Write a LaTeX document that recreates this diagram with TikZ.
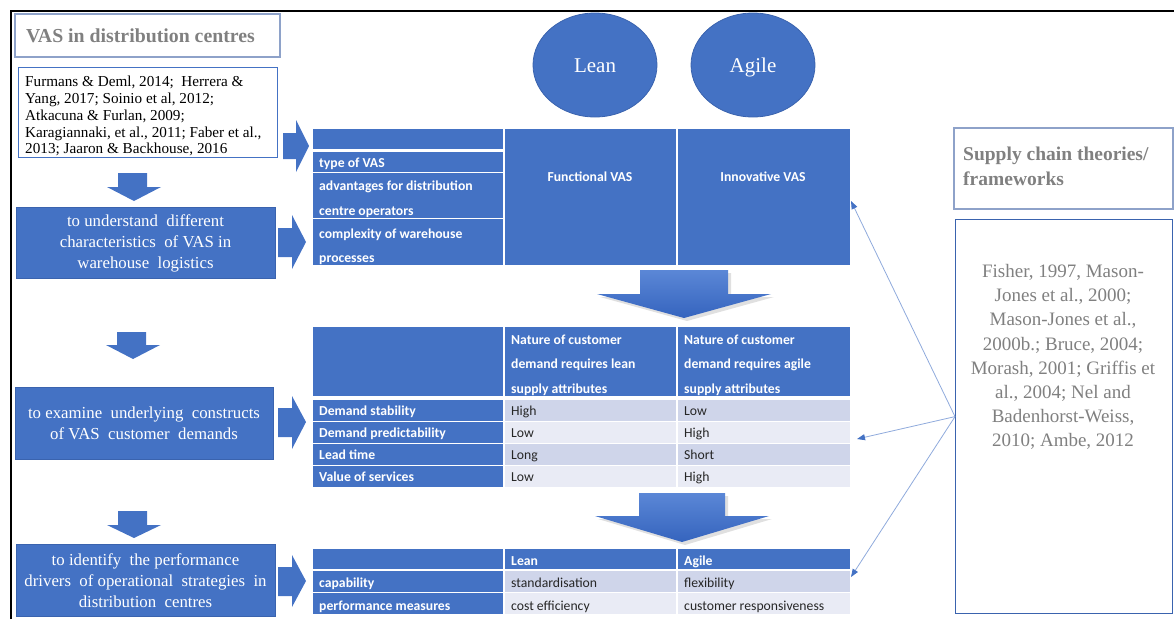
\documentclass[tikz,border=0pt]{standalone}
\usepackage{fontspec}
\setmainfont{Liberation Serif}
\newfontfamily\calibri{Carlito}
\usetikzlibrary{arrows.meta,shapes.geometric}

\definecolor{vasblue}{HTML}{4472C4}
\definecolor{vasedge}{HTML}{3A63AE}
\definecolor{rowA}{HTML}{CFD5EA}
\definecolor{rowB}{HTML}{E9EBF5}
\definecolor{greytxt}{HTML}{808080}
\definecolor{linkblue}{HTML}{8FAADC}
\definecolor{titleedge}{HTML}{8EA2C9}
\definecolor{shadetop}{HTML}{5B87D6}
\definecolor{shadebot}{HTML}{3564BE}

\tikzset{
  cd/.style={fill=vasblue, draw=white, line width=1pt},
  ca/.style={fill=rowA, draw=white, line width=1pt},
  cb/.style={fill=rowB, draw=white, line width=1pt},
  hd/.style={font=\calibri\bfseries\fontsize{13.7}{15}\selectfont, text=white, inner sep=0pt, anchor=base west},
  dt/.style={font=\calibri\fontsize{13.7}{15}\selectfont, text=black!85, inner sep=0pt, anchor=base west},
  aimbox/.style={fill=vasblue, draw=vasedge, line width=0.8pt, anchor=north west, inner sep=0pt},
  aimtext/.style={text=white, align=center, inner sep=0pt, font=\fontsize{16.8}{21}\selectfont},
  flatarrow/.style={fill=vasblue},
  bigarrow/.style={top color=shadetop, bottom color=shadebot},
  oval/.style={ellipse, minimum width=124pt, minimum height=104pt, fill=vasblue, draw=vasedge,
    line width=0.8pt},
  ovaltext/.style={anchor=base, inner sep=0pt, text=white, font=\fontsize{21}{24}\selectfont},
  link/.style={draw=linkblue, line width=0.8pt, -{Triangle[length=8pt,width=6pt,color=vasblue]}},
}

\begin{document}
\begin{tikzpicture}[x=1pt,y=-1pt]
\useasboundingbox (0,0) rectangle (1174,619);

% page frame
\draw[line width=2.5pt, black] (11,619) -- (11,11) -- (1174,11);

% left column: heading and references
\node[draw=titleedge, line width=1.5pt, minimum width=265pt, minimum height=43pt, anchor=north west, inner sep=0pt] (ttlbox) at (14,13) {};
\node[inner sep=0pt, anchor=base west, text=greytxt, font=\bfseries\fontsize{19.8}{22}\selectfont] (ttl) at (26,42) {VAS in distribution centres};

\node[draw=vasblue, line width=1.2pt, minimum width=259pt, minimum height=90pt, anchor=north west, inner sep=0pt] (litbox) at (18,67) {};
\node[anchor=north west, align=left, inner sep=0pt, font=\fontsize{15.2}{16.8}\selectfont] (lit) at (25,76)
  {Furmans \& Deml, 2014;\ \ Herrera \&\\ Yang, 2017; Soinio et al, 2012;\\ Atkacuna \& Furlan, 2009;\\ Karagiannaki,\ et al., 2011; Faber et al.,\\ 2013; Jaaron \& Backhouse, 2016};

% left column: research aims
\node[aimbox, minimum width=259pt, minimum height=71pt] (aim1) at (16,207) {};
\node[aimtext] (aim1t) at (145.5,243) {to understand\ \ different\\ characteristics\ \ of VAS in\\ warehouse\ \ logistics};
\node[aimbox, minimum width=258pt, minimum height=72pt] (aim2) at (15,387) {};
\node[aimtext] (aim2t) at (144,423.5) {to examine\ \ underlying\ \ constructs\\ of VAS\ \ customer\ \ demands};
\node[aimbox, minimum width=259pt, minimum height=72pt] (aim3) at (16,544) {};
\node[aimtext] (aim3t) at (145.5,581) {to identify\ \ the performance\\ drivers\ \ of operational\ \ strategies\ \ in\\ distribution\ \ centres};

% small down arrows between the left boxes
\fill[flatarrow] (118,173) -- (147,173) -- (147,187) -- (161,187) -- (134,201) -- (107,187) -- (118,187) -- cycle;
\fill[flatarrow] (117,332) -- (146,332) -- (146,345) -- (160,345) -- (133,359) -- (106,345) -- (117,345) -- cycle;
\fill[flatarrow] (118,511) -- (147,511) -- (147,525) -- (161,525) -- (134,538) -- (107,525) -- (118,525) -- cycle;

% small right arrows into the tables
\fill[flatarrow] (283,133) -- (296,133) -- (296,120) -- (309,146) -- (296,172) -- (296,159) -- (283,159) -- cycle;
\fill[flatarrow] (278,228) -- (292,228) -- (292,215) -- (306,242) -- (292,269) -- (292,257) -- (278,257) -- cycle;
\fill[flatarrow] (278,408) -- (292,408) -- (292,396) -- (306,422) -- (292,449) -- (292,437) -- (278,437) -- cycle;
\fill[flatarrow] (278,567) -- (292,567) -- (292,555) -- (306,581) -- (292,607) -- (292,596) -- (278,596) -- cycle;

% Lean / Agile
\node[oval] (lean) at (595,65) {};
\node[ovaltext] (leant) at (595,72) {Lean};
\node[oval] (agile) at (753,65) {};
\node[ovaltext] (agilet) at (753,72) {Agile};

% table 1: characteristics of VAS
\path[cd] (312,128) rectangle (503,149);
\path[cd] (504,128) rectangle (676,265);
\path[cd] (677,128) rectangle (850,265);
\path[cd] (312,151) rectangle (503,172);
\path[cd] (312,172) rectangle (503,218);
\path[cd] (312,218) rectangle (503,265);
\node[hd] (t1a) at (319,167) {type of VAS};
\node[hd] (t1b) at (319,190) {advantages for distribution};
\node[hd] (t1c) at (319,215) {centre operators};
\node[hd] (t1d) at (319,238) {complexity of warehouse};
\node[hd] (t1e) at (319,262) {processes};
\node[hd, anchor=base] (t1f) at (590,181) {Functional VAS};
\node[hd, anchor=base] (t1g) at (763,181) {Innovative VAS};

% big arrow 1
\fill[black, opacity=0.12] (643,273) -- (731,273) -- (731,297) -- (774,297) -- (687,321) -- (600,297) -- (643,297) -- cycle;
\shade[bigarrow] (640,270) -- (728,270) -- (728,294) -- (771,294) -- (684,318) -- (597,294) -- (640,294) -- cycle;

% table 2: customer demands
\path[cd] (312,326) rectangle (503,396);
\path[cd] (504,326) rectangle (676,396);
\path[cd] (677,326) rectangle (850,396);
\node[hd] (t2a) at (511,344) {Nature of customer};
\node[hd] (t2b) at (511,368) {demand requires lean};
\node[hd] (t2c) at (511,393) {supply attributes};
\node[hd] (t2d) at (684,344) {Nature of customer};
\node[hd] (t2e) at (684,368) {demand requires agile};
\node[hd] (t2f) at (684,393) {supply attributes};

\path[cd] (312,399) rectangle (503,421);
\path[ca] (504,399) rectangle (676,421);
\path[ca] (677,399) rectangle (850,421);
\path[cd] (312,421) rectangle (503,443);
\path[cb] (504,421) rectangle (676,443);
\path[cb] (677,421) rectangle (850,443);
\path[cd] (312,443) rectangle (503,465);
\path[ca] (504,443) rectangle (676,465);
\path[ca] (677,443) rectangle (850,465);
\path[cd] (312,465) rectangle (503,487);
\path[cb] (504,465) rectangle (676,487);
\path[cb] (677,465) rectangle (850,487);
\node[hd] (r1a) at (319,415) {Demand stability};
\node[dt] (r1b) at (511,415) {High};
\node[dt] (r1c) at (684,415) {Low};
\node[hd] (r2a) at (319,437) {Demand predictability};
\node[dt] (r2b) at (511,437) {Low};
\node[dt] (r2c) at (684,437) {High};
\node[hd] (r3a) at (319,459) {Lead time};
\node[dt] (r3b) at (511,459) {Long};
\node[dt] (r3c) at (684,459) {Short};
\node[hd] (r4a) at (319,481) {Value of services};
\node[dt] (r4b) at (511,481) {Low};
\node[dt] (r4c) at (684,481) {High};

% big arrow 2
\fill[black, opacity=0.12] (642,496) -- (728,496) -- (728,519) -- (772,519) -- (685,545) -- (598,519) -- (642,519) -- cycle;
\shade[bigarrow] (639,493) -- (725,493) -- (725,516) -- (769,516) -- (682,542) -- (595,516) -- (639,516) -- cycle;

% table 3: performance drivers
\path[cd] (312,548) rectangle (503,569);
\path[cd] (504,548) rectangle (676,569);
\path[cd] (677,548) rectangle (850,569);
\path[cd] (312,570) rectangle (503,592);
\path[ca] (504,570) rectangle (676,592);
\path[ca] (677,570) rectangle (850,592);
\path[cd] (312,592) rectangle (503,614);
\path[cb] (504,592) rectangle (676,614);
\path[cb] (677,592) rectangle (850,614);
\node[hd] (p0b) at (511,565) {Lean};
\node[hd] (p0c) at (684,565) {Agile};
\node[hd] (p1a) at (319,587) {capability};
\node[dt] (p1b) at (511,587) {standardisation};
\node[dt] (p1c) at (684,587) {flexibility};
\node[hd] (p2a) at (319,610) {performance measures};
\node[dt] (p2b) at (511,610) {cost efficiency};
\node[dt] (p2c) at (684,610) {customer responsiveness};

% right column: theories
\node[draw=titleedge, line width=1.6pt, minimum width=219pt, minimum height=81pt, anchor=north west, inner sep=0pt] (thbox) at (953,127) {};
\node[anchor=north west, align=left, inner sep=0pt, text=greytxt, font=\bfseries\fontsize{19.5}{25}\selectfont] (th) at (963,147)
  {Supply chain theories/\\ frameworks};
\node[draw=vasedge, line width=1.2pt, minimum width=217pt, minimum height=394pt, anchor=north west, inner sep=0pt] (refR) at (955,219) {};
\node[align=center, inner sep=0pt, text=greytxt, font=\fontsize{19}{24.1}\selectfont] (refRt) at (1063,357)
  {Fisher, 1997, Mason-\\ Jones et al., 2000;\\ Mason-Jones et al.,\\ 2000b.; Bruce, 2004;\\ Morash, 2001; Griffis et\\ al., 2004; Nel and\\ Badenhorst-Weiss,\\ 2010; Ambe, 2012};

% links from the theories to the tables
\coordinate (hub) at (refR.west);
\coordinate (e1) at (851,201);
\coordinate (e2) at (857,439);
\coordinate (e3) at (851,577);
\draw[link] (hub) -- (e1);
\draw[link] (hub) -- (e2);
\draw[link] (hub) -- (e3);
\end{tikzpicture}
\end{document}
